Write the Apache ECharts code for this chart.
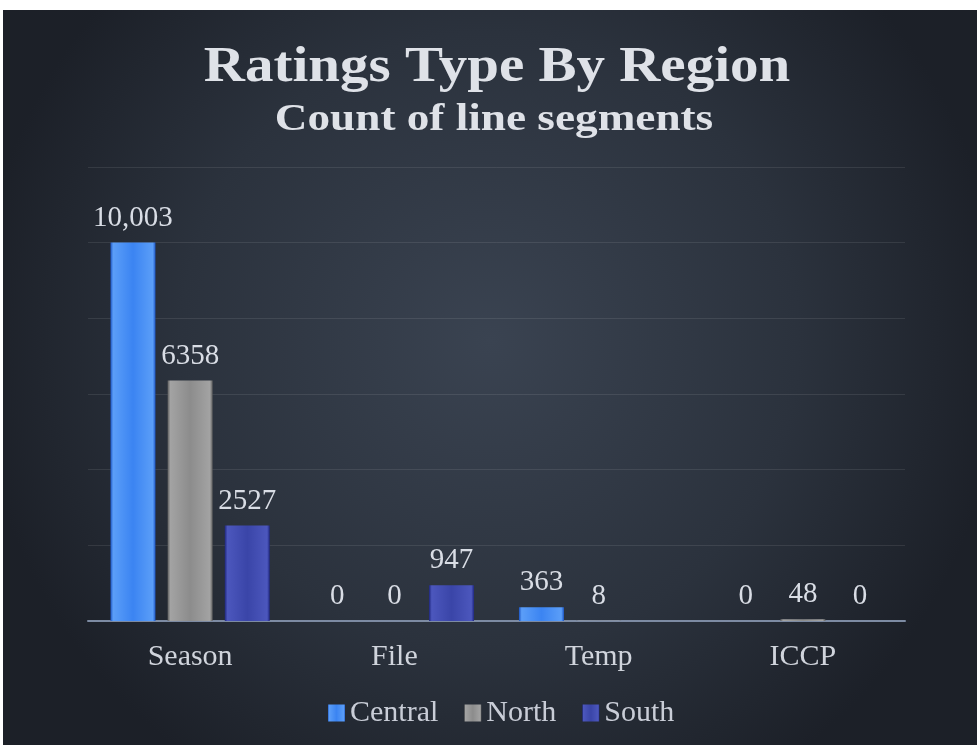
<!DOCTYPE html>
<html>
<head>
<meta charset="utf-8">
<script src="https://cdn.jsdelivr.net/npm/echarts@6/dist/echarts.min.js"></script>
<style>
  html, body { margin: 0; padding: 0; background: #ffffff; }
  #main { position: absolute; left: 3px; top: 10px; width: 974px; height: 735px; }
</style>
</head>
<body>
<div id="main"></div>
<script>
var categories = ['Season', 'File', 'Temp', 'ICCP'];
var central = [10003, 0, 363, 0];
var north = [6358, 0, 8, 48];
var south = [2527, 947, null, 0];
var yTicks = [0, 2000, 4000, 6000, 8000, 10000, 12000];

var titleText = 'Ratings Type By Region';
var subText = 'Count of line segments';

var chart = echarts.init(document.getElementById('main'));

var serif = '"Liberation Serif", "DejaVu Serif", serif';

// bevel-ish fill: dark edges, lighter inside
function bevel(edge, light, base) {
    return new echarts.graphic.LinearGradient(0, 0, 1, 0, [
        {offset: 0, color: edge},
        {offset: 0.06, color: light},
        {offset: 0.5, color: base},
        {offset: 0.94, color: light},
        {offset: 1, color: edge}
    ]);
}

function fmt(p) {
    if (p.value == null) return '';
    return p.value >= 10000 ? p.value.toLocaleString('en-US') : String(p.value);
}

var labelStyle = {
    show: true,
    position: 'top',
    distance: 10,
    color: '#d9dde5',
    fontFamily: serif,
    fontSize: 29,
    formatter: fmt
};

function makeSeries(name, data, edge, light, base) {
    return {
        name: name,
        type: 'bar',
        data: data,
        barWidth: 45,
        barGap: '27%',
        itemStyle: {
            color: bevel(edge, light, base)
        },
        label: labelStyle
    };
}

var option = {
    backgroundColor: new echarts.graphic.RadialGradient(0.5, 0.45, 0.7, [
        {offset: 0, color: '#3a4351'},
        {offset: 0.6, color: '#2b323d'},
        {offset: 1, color: '#1c2028'}
    ]),
    // title drawn as graphic text so the wide tracking can be approximated
    graphic: [{
        type: 'text',
        x: 494,
        y: 58,
        scaleX: 1.14,
        style: {
            text: titleText,
            align: 'center',
            verticalAlign: 'middle',
            font: 'bold 50px ' + serif,
            fill: '#dfe2e8'
        }
    }, {
        type: 'text',
        x: 491,
        y: 110,
        scaleX: 1.19,
        style: {
            text: subText,
            align: 'center',
            verticalAlign: 'middle',
            font: 'bold 38px ' + serif,
            fill: '#dfe2e8'
        }
    }],
    legend: {
        bottom: 12,
        left: 320,
        itemWidth: 17,
        itemHeight: 17,
        itemGap: 26,
        icon: 'rect',
        textStyle: {fontFamily: serif, fontSize: 30, color: '#c9cdd7'},
        data: ['Central', 'North', 'South']
    },
    grid: {left: 85, right: 72, top: 157, bottom: 124},
    xAxis: {
        type: 'category',
        data: categories,
        axisTick: {show: false},
        axisLine: {lineStyle: {color: '#7d8ba3', width: 2}},
        axisLabel: {color: '#d0d4dc', fontFamily: serif, fontSize: 30, margin: 21}
    },
    yAxis: {
        type: 'value',
        min: yTicks[0],
        max: yTicks[yTicks.length - 1],
        interval: yTicks[1] - yTicks[0],
        axisLabel: {show: false},
        axisLine: {show: false},
        axisTick: {show: false},
        splitLine: {lineStyle: {color: 'rgba(255,255,255,0.09)', width: 1}}
    },
    series: [
        makeSeries('Central', central, '#1c55c4', '#5b9ef8', '#3b84f2'),
        makeSeries('North', north, '#5e5e5e', '#a3a3a3', '#8c8c8c'),
        makeSeries('South', south, '#1f2780', '#4c57bd', '#3a45a8')
    ]
};

chart.setOption(option);
</script>
</body>
</html>
